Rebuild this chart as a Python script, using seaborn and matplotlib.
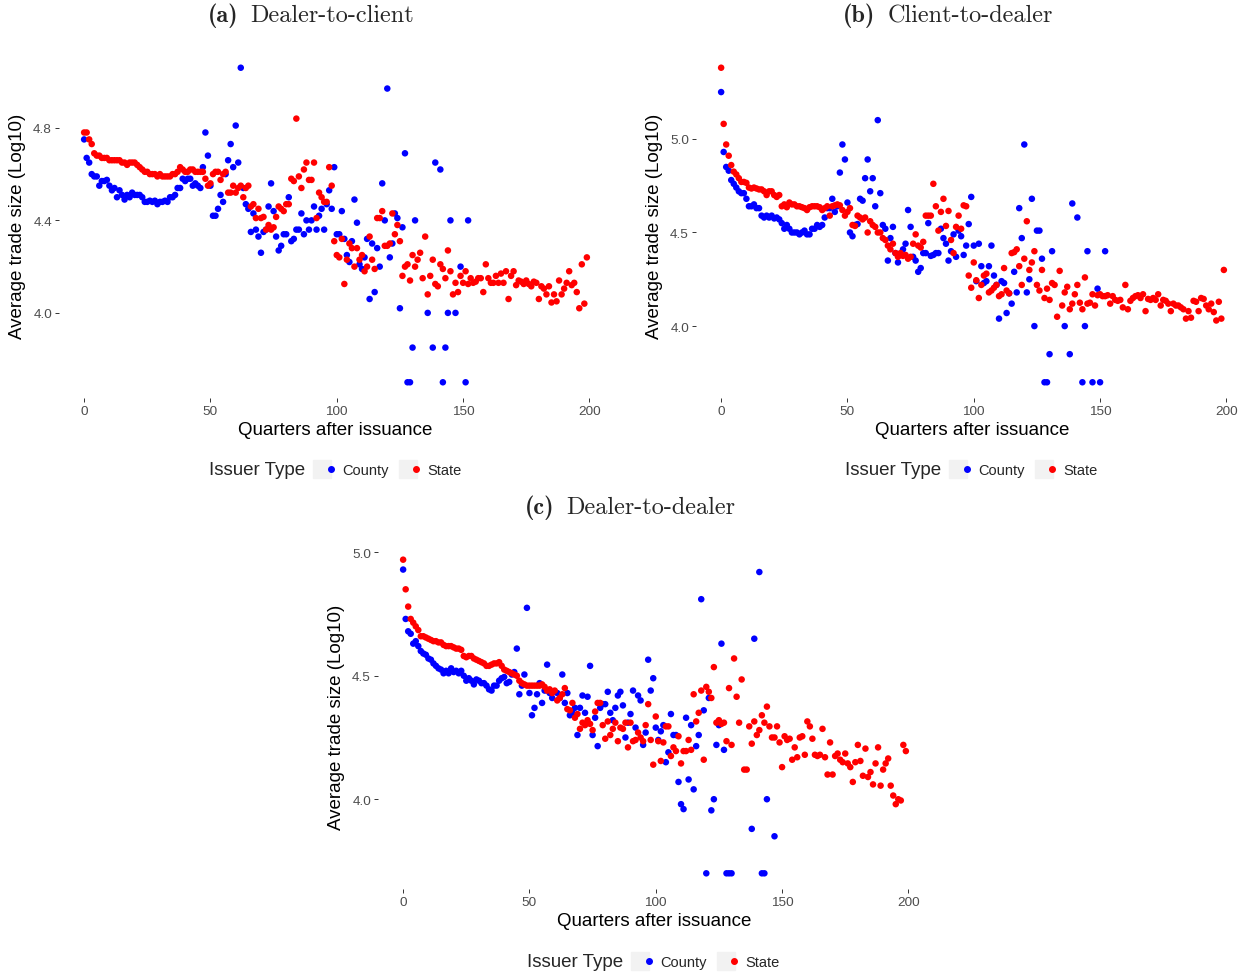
import numpy as np
import pandas as pd
import matplotlib
matplotlib.use("Agg")
import matplotlib.pyplot as plt
import seaborn as sns
from matplotlib.lines import Line2D
from matplotlib.legend_handler import HandlerTuple

# ---------------- data ----------------
# Panel (a) Dealer-to-client
a_county_dense = [4.75,4.67,4.65,4.60,4.59,4.59,4.55,4.57,4.57,4.575,
                  4.55,4.53,4.54,4.50,4.53,4.51,4.49,4.51,4.50,4.52,
                  4.51,4.51,4.51,4.50,4.48,4.48,4.485,4.48,4.485,4.47,
                  4.48,4.48,4.485,4.48,4.50,4.50,4.51,4.54,4.54,4.58,
                  4.57,4.58,4.58,4.55,4.56,4.55,
                  4.54,4.63,4.78,4.68,4.55,4.42,4.42,4.45,4.51,4.48,
                  4.60,4.66,4.73,4.63,4.81,4.65,5.06,4.54,4.47,4.45,
                  4.35,4.43,4.36,4.33,4.26,4.35,4.36,4.46,4.56,4.44,
                  4.33,4.27,4.29,4.34,4.34,4.50,4.31,4.32,4.36,4.36,
                  4.43,4.34,4.40,4.36,4.40,4.46,4.36,4.42,4.45,4.36,
                  4.47,4.53,4.45,4.63,4.34,4.34,4.44,4.32,4.25,4.22,
                  4.31,4.49,4.39,4.21,4.19,4.24,4.32,4.06,4.30,4.09,
                  4.28,4.20,4.56,4.40,4.97,4.24,4.30,4.43,4.41,4.02,
                  4.37,4.69,3.70,3.70,3.85,4.40]
a_county_sparse_q = [136, 138, 139, 141, 142, 143, 144, 145, 147, 149, 151, 152]
a_county_sparse_v = [4.00, 3.85, 4.65, 4.62, 3.70, 3.85, 4.00, 4.40, 4.00, 4.20, 3.70, 4.40]

a_state = [4.78,4.78,4.75,4.73,4.69,4.68,4.68,4.67,4.67,4.67,
           4.66,4.66,4.66,4.66,4.66,4.65,4.65,4.64,4.65,4.65,
           4.65,4.64,4.63,4.62,4.61,4.61,4.60,4.60,4.60,4.59,
           4.60,4.59,4.59,4.59,4.59,4.60,4.60,4.61,4.63,4.62,
           4.61,4.61,4.62,4.62,4.61,4.61,4.61,4.61,
           4.58,4.55,4.56,4.60,4.61,4.61,4.575,4.60,4.61,4.52,
           4.52,4.55,4.52,4.54,4.55,4.50,4.54,4.55,4.46,4.47,
           4.41,4.45,4.41,4.415,4.36,4.38,4.36,4.37,4.415,4.46,
           4.45,4.44,4.47,4.47,4.58,4.57,4.84,4.59,4.54,4.62,
           4.65,4.575,4.575,4.65,4.41,4.52,4.50,4.48,4.48,4.63,
           4.55,4.31,4.25,4.24,4.32,4.125,4.23,4.30,4.28,4.20,
           4.28,4.23,4.25,4.18,4.20,4.33,4.23,4.19,4.41,4.41,
           4.44,4.29,4.29,4.30,4.43,4.34,4.38,4.31,4.16,4.20,
           4.21,4.14,4.25,4.20,4.23,4.26,4.15,4.33,4.08,4.16,
           4.23,4.125,4.115,4.21,4.19,4.15,4.27,4.18,4.08,4.13,
           4.09,4.16,4.13,4.18,4.125,4.15,4.13,4.135,4.15,4.15,
           4.09,4.21,4.15,4.13,4.13,4.16,4.13,4.17,4.13,4.18,
           4.06,4.16,4.18,4.12,4.14,4.135,4.125,4.14,4.125,4.115,
           4.135,4.13,4.06,4.115,4.105,4.08,4.115,4.045,4.08,4.05,
           4.14,4.08,4.105,4.13,4.18,4.12,4.13,4.09,4.02,4.21,
           4.04,4.24]

# Panel (b) Client-to-dealer
b_county_dense = [5.25,4.93,4.85,4.83,4.78,4.76,4.74,4.72,4.71,4.71,
                  4.68,4.64,4.64,4.65,4.63,4.63,4.59,4.58,4.59,4.58,
                  4.59,4.575,4.58,4.57,4.55,4.52,4.54,4.52,4.50,4.50,
                  4.50,4.49,4.50,4.51,4.49,4.49,4.52,4.52,4.54,4.53,
                  4.54,4.58,4.63,4.63,4.68,4.61,4.64,4.82,4.97,4.89,
                  4.66,4.50,4.48,4.54,4.545,4.68,4.67,4.79,4.89,4.72,
                  4.79,4.64,5.10,4.71,4.54,4.52,4.35,4.47,4.53,4.39,
                  4.34,4.38,4.41,4.44,4.62,4.53,4.37,4.35,4.29,4.31,
                  4.39,4.39,4.55,4.375,4.38,4.39,4.39,4.52,4.47,4.44,
                  4.35,4.40,4.49,4.37,4.51,4.48,4.38,4.43,4.545,
                  4.69,4.43,4.24,4.44,4.32,4.23,4.24,4.32,4.43,4.27,
                  4.22,4.04,4.24,4.23,4.07,4.175,4.12,4.29,4.18,4.63,
                  4.47,4.97,4.18,4.25,4.68,4.00,4.51,4.51,4.36,3.70,
                  3.70,3.85,4.40]
b_county_sparse_q = [136, 138, 139, 141, 143, 144, 145, 147, 149, 150, 152]
b_county_sparse_v = [4.00, 3.85, 4.655, 4.58, 3.70, 4.00, 4.40, 3.70, 4.20, 3.70, 4.40]

b_state = [5.38,5.08,4.97,4.91,4.86,4.825,4.81,4.79,4.77,4.77,
           4.765,4.74,4.735,4.74,4.735,4.73,4.73,4.72,4.70,4.72,
           4.72,4.70,4.69,4.70,4.64,4.65,4.635,4.66,4.65,4.65,
           4.64,4.64,4.635,4.63,4.62,4.635,4.64,4.64,4.64,4.635,
           4.62,4.63,4.64,4.59,4.64,4.645,4.65,4.645,4.62,4.59,
           4.61,4.63,4.54,4.535,4.59,4.58,4.57,4.58,4.50,4.56,
           4.54,4.53,4.50,4.50,4.47,4.46,4.43,4.41,4.44,4.39,
           4.37,4.39,4.375,4.38,4.36,4.37,4.44,4.49,4.43,4.42,
           4.45,4.59,4.59,4.59,4.76,4.64,4.51,4.61,4.68,4.535,
           4.615,4.46,4.39,4.53,4.59,4.52,4.645,4.64,4.27,4.205,
           4.34,4.245,4.15,4.22,4.27,4.28,4.18,4.19,4.205,4.22,
           4.16,4.17,4.31,4.19,4.175,4.39,4.395,4.41,4.32,4.22,
           4.36,4.56,4.30,4.34,4.40,4.22,4.19,4.30,4.15,4.20,
           4.14,4.23,4.22,4.05,4.295,4.11,4.18,4.21,4.09,4.12,
           4.17,4.22,4.125,4.09,4.26,4.12,4.125,4.17,4.11,4.165,
           4.17,4.16,4.16,4.165,4.12,4.16,4.14,4.135,4.14,4.10,
           4.22,4.09,4.135,4.15,4.16,4.165,4.15,4.17,4.08,4.145,
           4.14,4.15,4.14,4.17,4.11,4.14,4.135,4.12,4.08,4.12,
           4.11,4.11,4.10,4.09,4.04,4.08,4.045,4.135,4.13,4.08,
           4.15,4.145,4.11,4.09,4.12,4.075,4.03,4.13,4.04,4.30]

# Panel (c) Dealer-to-dealer
c_county_dense = [4.93,4.73,4.68,4.67,4.63,4.64,4.62,4.60,4.59,4.585,
                  4.57,4.565,4.55,4.54,4.53,4.525,4.51,4.52,4.51,4.53,
                  4.515,4.52,4.51,4.52,4.50,4.48,4.49,4.48,4.465,4.485,
                  4.48,4.47,4.47,4.46,4.445,4.44,4.46,4.46,4.48,4.49,
                  4.495,4.47,4.475,4.505,4.515,4.61,4.425,4.46,4.505,4.775,
                  4.43,4.34,4.37,4.425,4.47,4.39,4.44,4.545,4.43,4.41,
                  4.435,4.43,4.41,4.505,4.39,4.43,4.34,4.35,4.37,4.26,
                  4.37,4.42,4.35,4.415,4.54,4.26,4.33,4.215,4.37,4.385,
                  4.385,4.435,4.35,4.32,4.37,4.42,4.435,4.38,4.25,4.31,
                  4.345,4.44,4.29,4.42,4.40,4.22,4.27,4.565,4.44,4.49,
                  4.29,4.24,4.275,4.30,4.15,4.19,4.345,4.26,4.26,4.07,
                  3.98,3.96,4.33,4.08,4.30,4.04,4.215,4.26,4.81,4.36,
                  3.70,4.41,3.955,4.00,4.22,4.30,4.63,4.20,3.70,3.70,
                  3.70]
c_county_sparse_q = [138, 139, 141, 142, 143, 144, 147]
c_county_sparse_v = [3.88, 4.65, 4.92, 3.70, 3.70, 4.00, 3.85]

c_state = [4.97,4.85,4.78,4.73,4.715,4.70,4.685,4.66,4.66,4.655,
           4.65,4.645,4.64,4.64,4.635,4.635,4.625,4.62,4.62,4.62,
           4.615,4.61,4.61,4.605,4.58,4.575,4.58,4.58,4.57,4.565,
           4.56,4.555,4.55,4.54,4.54,4.545,4.55,4.55,4.555,4.54,
           4.525,4.52,4.515,4.51,4.505,4.50,4.48,4.47,4.465,4.46,
           4.46,4.46,4.46,4.46,4.46,4.465,4.455,4.44,4.445,4.43,
           4.44,4.40,4.41,4.425,4.45,4.365,4.36,4.39,4.33,4.345,
           4.285,4.31,4.30,4.32,4.305,4.28,4.355,4.39,4.39,4.30,
           4.245,4.315,4.26,4.285,4.31,4.235,4.29,4.285,4.31,4.21,
           4.31,4.235,4.24,4.27,4.25,4.235,4.30,4.385,4.24,4.14,
           4.335,4.235,4.155,4.23,4.295,4.295,4.175,4.21,4.195,4.255,
           4.145,4.195,4.195,4.24,4.20,4.425,4.315,4.35,4.44,4.16,
           4.455,4.435,4.41,4.535,4.31,4.32,4.305,4.31,4.235,4.45,
           4.22,4.57,4.415,4.31,4.485,4.12,4.12,4.295,4.225,4.315,
           4.26,4.28,4.34,4.31,4.375,4.295,4.25,4.25,4.295,4.23,
           4.13,4.255,4.24,4.245,4.16,4.21,4.17,4.25,4.255,4.18,
           4.315,4.295,4.245,4.18,4.175,4.18,4.285,4.17,4.10,4.23,
           4.10,4.175,4.185,4.16,4.15,4.185,4.145,4.13,4.07,4.15,
           4.22,4.155,4.095,4.205,4.09,4.11,4.06,4.145,4.21,4.055,
           4.12,4.145,4.165,4.055,4.015,3.98,4.00,3.995,4.22,4.195]

issuer_types = ["County", "State"]
palette = {"County": "#0000FF", "State": "#FF0000"}
x_ticks = [0, 50, 100, 150, 200]


def build_frame(county_dense, sp_q, sp_v, state):
    cq = list(range(len(county_dense))) + list(sp_q)
    cv = list(county_dense) + list(sp_v)
    sq = list(range(len(state)))
    df_c = pd.DataFrame({"quarter": cq, "size": cv, "type": "County"})
    df_s = pd.DataFrame({"quarter": sq, "size": state, "type": "State"})
    return pd.concat([df_c, df_s], ignore_index=True)


panels = [
    dict(df=build_frame(a_county_dense, a_county_sparse_q, a_county_sparse_v, a_state),
         yticks=[4.0, 4.4, 4.8], rect=(59, 53, 612, 399), letter="(a)",
         title="Dealer-to-client", title_xy=(311, 16), leg=(305, 471)),
    dict(df=build_frame(b_county_dense, b_county_sparse_q, b_county_sparse_v, b_state),
         yticks=[4.0, 4.5, 5.0], rect=(696, 53, 1249, 399), letter="(b)",
         title="Client-to-dealer", title_xy=(948, 16), leg=(941, 471)),
    dict(df=build_frame(c_county_dense, c_county_sparse_q, c_county_sparse_v, c_state),
         yticks=[4.0, 4.5, 5.0], rect=(378, 545, 931, 890), letter="(c)",
         title="Dealer-to-dealer", title_xy=(630, 508), leg=(623, 963)),
]

# ---------------- style ----------------
sns.set_theme(style="white")
plt.rcParams["font.family"] = ["Liberation Sans", "DejaVu Sans"]
plt.rcParams["mathtext.fontset"] = "cm"

W, H = 1249, 978
fig = plt.figure(figsize=(W / 100, H / 100), dpi=100)
fig.patch.set_facecolor("white")


def rect_frac(l, t, r, b):
    return [l / W, 1 - b / H, (r - l) / W, (b - t) / H]


title_pairs = []
for p in panels:
    ax = fig.add_axes(rect_frac(*p["rect"]))
    df = p["df"]
    for t in issuer_types:
        sub = df[df["type"] == t]
        sns.scatterplot(data=sub, x="quarter", y="size", color=palette[t],
                        s=22, linewidth=0, edgecolor="none", legend=False, ax=ax)
    qmin, qmax = df["quarter"].min(), df["quarter"].max()
    qs = qmax - qmin
    ymin, ymax = df["size"].min(), df["size"].max()
    ys = ymax - ymin
    ax.set_xlim(qmin - 0.05 * qs, qmax + 0.05 * qs)
    ax.set_ylim(ymin - 0.05 * ys, ymax + 0.05 * ys)
    ax.set_xticks(x_ticks)
    ax.set_yticks(p["yticks"])
    ax.set_yticklabels([f"{v:.1f}" for v in p["yticks"]])
    for s in ax.spines.values():
        s.set_visible(False)
    ax.grid(False)
    ax.set_facecolor("white")
    ax.tick_params(axis="both", which="major", length=3, width=0.7, color="#333333",
                   labelcolor="#4D4D4D", labelsize=9.7, pad=2, bottom=True, left=True)
    ax.set_xlabel("Quarters after issuance", fontsize=13.5, color="black", labelpad=3)
    ax.set_ylabel("Average trade size (Log10)", fontsize=13.5, color="black", labelpad=5)

    tx, ty = p["title_xy"]
    t_bold = fig.text(tx / W, 1 - ty / H, p["letter"], family="cmb10",
                      fontsize=17.5, ha="left", va="center")
    t_reg = fig.text(tx / W, 1 - ty / H, p["title"], family="cmr10",
                     fontsize=17.5, ha="left", va="center")
    title_pairs.append((tx, t_bold, t_reg))

    lx, ly = p["leg"]
    fig.text(lx / W, 1 - ly / H, "Issuer Type", fontsize=13.5, ha="right", va="center")
    handles = []
    for t in issuer_types:
        bg = Line2D([], [], marker="s", markersize=12.5, color="#F2F2F2", linestyle="")
        dot = Line2D([], [], marker="o", markersize=4, color=palette[t], linestyle="")
        handles.append((bg, dot))
    fig.legend(handles=handles, labels=issuer_types,
               handler_map={tuple: HandlerTuple(ndivide=None, pad=0)},
               ncol=2, loc="center left", bbox_to_anchor=((lx + 13) / W, 1 - ly / H),
               frameon=False, fontsize=10.5, handlelength=1.2, handletextpad=0.45,
               columnspacing=1.0, borderaxespad=0, borderpad=0)

# position the two-part titles (bold label + regular text) centred at tx
fig.canvas.draw()
renderer = fig.canvas.get_renderer()
gap = 12
for tx, tb, tr in title_pairs:
    wb = tb.get_window_extent(renderer).width
    wr = tr.get_window_extent(renderer).width
    total = wb + gap + wr
    left = tx - total / 2
    tb.set_x(left / W)
    tr.set_x((left + wb + gap) / W)

fig.savefig("out.png", dpi=100, facecolor="white")
